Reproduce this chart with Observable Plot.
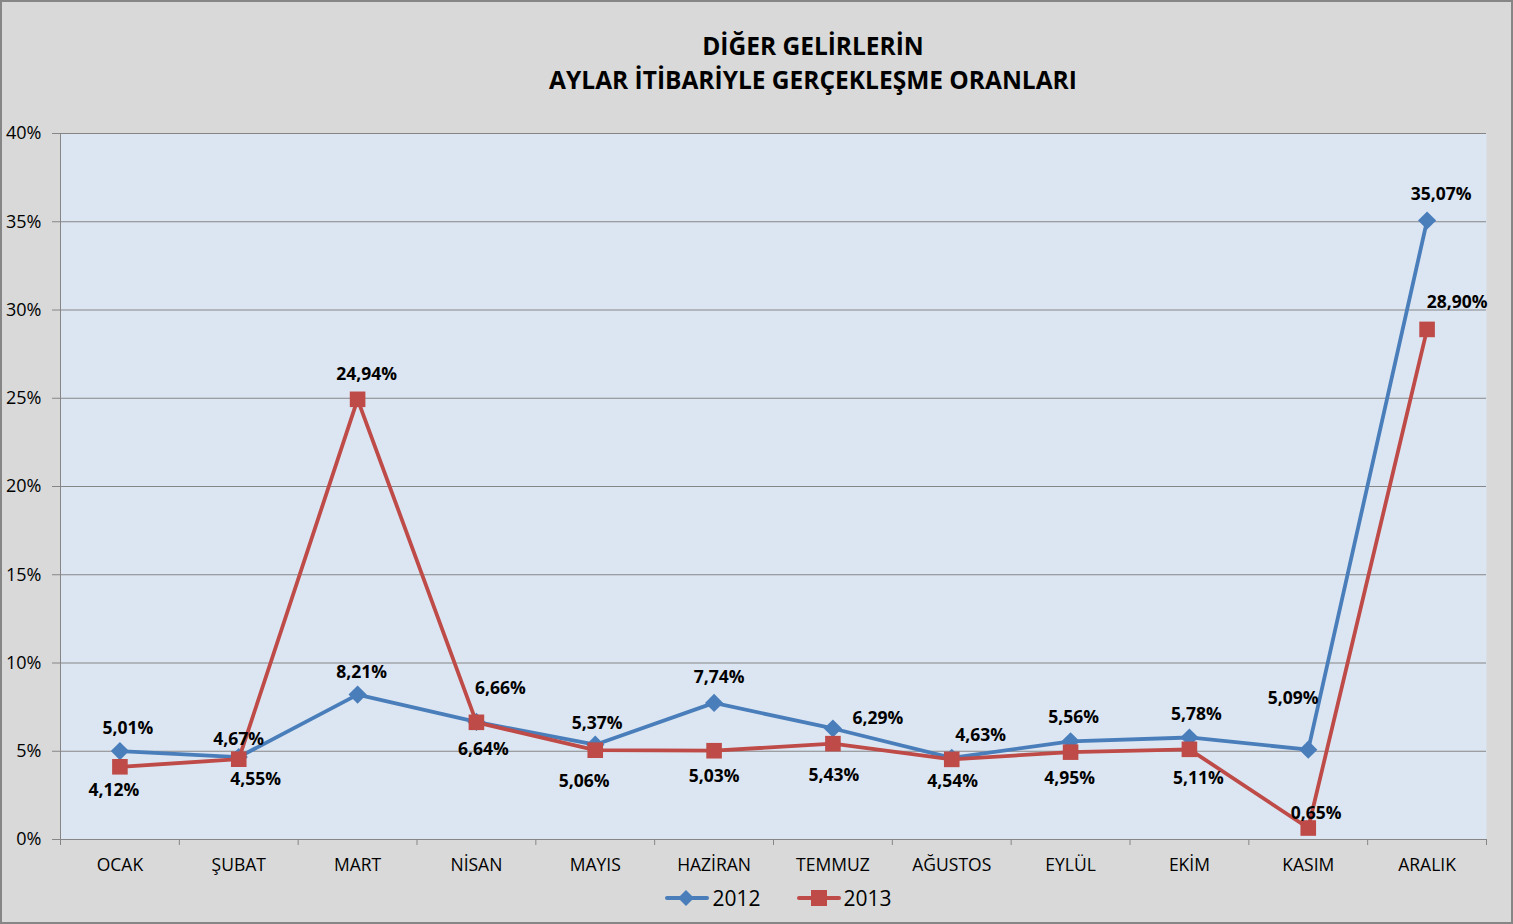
<!DOCTYPE html>
<html>
<head>
<meta charset="utf-8">
<script src="https://cdn.jsdelivr.net/npm/d3@7"></script>
<script src="https://cdn.jsdelivr.net/npm/@observablehq/plot@0.6"></script>
<style>
  html, body { margin: 0; padding: 0; background: #d9d9d9; }
  #chart {
    position: relative; width: 1513px; height: 924px; box-sizing: border-box;
    border: 2px solid #868686; background: #d9d9d9; font-family: "Open Sans", sans-serif; overflow: hidden;
  }
  #title {
    height: 98px; box-sizing: border-box; padding-top: 27px; padding-left: 113px;
    text-align: center; font-weight: bold; font-size: 24.5px; line-height: 34px; color: #000;
  }
  #plot svg { display: block; }
  #legend {
    height: 44px; display: flex; justify-content: center; align-items: center; padding-left: 44px;
    font-size: 21px; color: #000; margin-top: -4px;
  }
  .item { display: flex; align-items: center; margin: 0 18px; }
  .item svg { margin-right: 3px; }
</style>
</head>
<body>
<div id="chart">
  <div id="title">DİĞER GELİRLERİN<br>AYLAR İTİBARİYLE GERÇEKLEŞME ORANLARI</div>
  <div id="plot"></div>
  <div id="legend"></div>
</div>
<script>
// ---- data ----
const months = ["OCAK", "ŞUBAT", "MART", "NİSAN", "MAYIS", "HAZİRAN", "TEMMUZ", "AĞUSTOS", "EYLÜL", "EKİM", "KASIM", "ARALIK"];
const series = ["2012", "2013"];
const values2012 = [5.01, 4.67, 8.21, 6.66, 5.37, 7.74, 6.29, 4.63, 5.56, 5.78, 5.09, 35.07];
const values2013 = [4.12, 4.55, 24.94, 6.64, 5.06, 5.03, 5.43, 4.54, 4.95, 5.11, 0.65, 28.90];
const yTicks = [0, 5, 10, 15, 20, 25, 30, 35, 40];

// ---- layout (label nudges, in pixels) ----
const nudge2012 = [[8,-23],[0,-18],[4,-22],[24,-34],[2,-21],[5,-25],[45,-10],[29,-22],[3,-24],[7,-23],[-15,-51],[14,-26]];
const nudge2013 = [[-6,24],[17,20],[9,-25],[7,27],[-11,31],[0,26],[1,32],[1,22],[-1,26],[9,29],[8,-15],[30,-27]];

const colors = {"2012": "#4a7ebb", "2013": "#be4b48"};
const fmt = v => v.toFixed(2).replace(".", ",") + "%";

function rows(vals, name, nudges) {
  return vals.map((v, i) => ({month: months[i], i, x: i + 0.5, y: v, series: name, label: fmt(v), dx: nudges[i][0], dy: nudges[i][1]}));
}
const d2012 = rows(values2012, "2012", nudge2012);
const d2013 = rows(values2013, "2013", nudge2013);

const diamond = { draw(ctx, size) { const r = Math.sqrt(size) * 0.62625; ctx.moveTo(0, -r); ctx.lineTo(r, 0); ctx.lineTo(0, r); ctx.lineTo(-r, 0); ctx.closePath(); } };
const square = { draw(ctx, size) { const w = Math.sqrt(size), h = w / 2; ctx.rect(-h, -h, w, w); } };

function labels(data) {
  return data.map(d => Plot.text([d], {x: "x", y: "y", text: "label", dx: d.dx, dy: d.dy, fontWeight: "bold", fontSize: 17.5, fill: "#000"}));
}

const chart = Plot.plot({
  width: 1509, height: 780,
  marginLeft: 58, marginRight: 25, marginTop: 33, marginBottom: 41,
  style: {fontFamily: "'Open Sans', sans-serif", background: "transparent", color: "#000"},
  x: {type: "linear", domain: [0, months.length], label: null},
  y: {domain: [0, 40], label: null},
  marks: [
    Plot.frame({fill: "#dce6f2", stroke: null}),
    Plot.gridY(yTicks, {stroke: "#868686", strokeOpacity: 1}),
    Plot.axisY({ticks: yTicks, tickSize: 8, tickPadding: 11, tickFormat: d => d + "%", fontSize: 18, stroke: "#868686", fill: "#000", label: null}),
    Plot.ruleX([0], {stroke: "#868686"}),
    Plot.ruleY([0], {stroke: "#868686"}),
    Plot.axisX({ticks: d3.range(0, months.length + 1), tickSize: 6, tickFormat: () => "", stroke: "#868686", label: null}),
    Plot.axisX({ticks: months.map((m, i) => i + 0.5), tickSize: 0, tickPadding: 19, tickFormat: t => months[Math.floor(t)], fontSize: 17.5, fill: "#000", label: null}),
    Plot.line(d2012, {x: "x", y: "y", stroke: colors["2012"], strokeWidth: 3.8}),
    Plot.dot(d2012, {x: "x", y: "y", symbol: diamond, r: 8.2, fill: colors["2012"], stroke: null}),
    Plot.line(d2013, {x: "x", y: "y", stroke: colors["2013"], strokeWidth: 3.8}),
    Plot.dot(d2013, {x: "x", y: "y", symbol: square, r: 8.8, fill: colors["2013"], stroke: null}),
    ...labels(d2012),
    ...labels(d2013)
  ]
});
document.getElementById("plot").append(chart);

// legend
const legend = document.getElementById("legend");
series.forEach(s => {
  const item = document.createElement("div");
  item.className = "item";
  const marker = s === "2012"
    ? `<path d="M21,3 L29,11 L21,19 L13,11 Z" fill="${colors[s]}"/>`
    : `<rect x="14" y="3" width="16" height="16" fill="${colors[s]}"/>`;
  item.innerHTML = `<svg width="44" height="22"><line x1="2" y1="11" x2="42" y2="11" stroke="${colors[s]}" stroke-width="4" stroke-linecap="round"/>${marker}</svg><span>${s}</span>`;
  legend.append(item);
});
</script>
</body>
</html>
